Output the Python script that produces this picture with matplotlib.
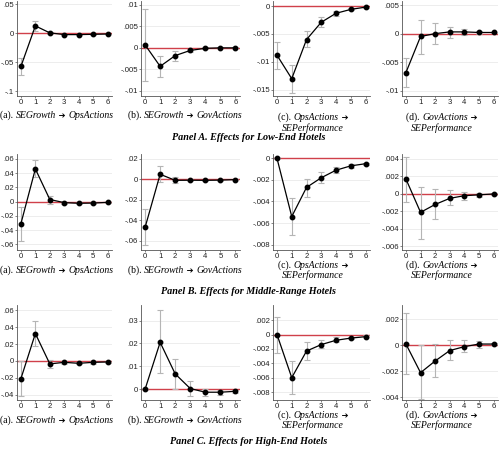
import matplotlib
matplotlib.use("Agg")
import matplotlib.pyplot as plt
from matplotlib.offsetbox import TextArea, HPacker, AnnotationBbox

# ---------------- data ----------------
steps = [0, 1, 2, 3, 4, 5, 6]

# Panel A (Low-End)
A_a_est = [-0.057, 0.013, 0.001, -0.002, -0.002, -0.0015, -0.001]
A_a_lo = [-0.072, 0.005, -0.001, -0.003, -0.003, -0.002, -0.0015]
A_a_hi = [-0.042, 0.021, 0.003, -0.001, -0.001, -0.001, -0.0005]

A_b_est = [0.0007, -0.0043, -0.0018, -0.0006, -0.0001, 0.0, 0.0]
A_b_lo = [-0.0076, -0.0067, -0.0030, -0.0010, -0.0003, -0.0001, -0.0001]
A_b_hi = [0.009, -0.0018, -0.0008, -0.0002, 0.0001, 0.0001, 0.0001]

A_c_est = [-0.0088, -0.0130, -0.0060, -0.0029, -0.0013, -0.0006, -0.0002]
A_c_lo = [-0.0112, -0.0155, -0.0074, -0.0038, -0.0017, -0.0008, -0.0003]
A_c_hi = [-0.0065, -0.0105, -0.0045, -0.0020, -0.0009, -0.0004, -0.0001]

A_d_est = [-0.0068, -0.0005, 0.0, 0.0003, 0.0003, 0.0002, 0.0002]
A_d_lo = [-0.0094, -0.0035, -0.0019, -0.0007, -0.0002, 0.0, 0.0001]
A_d_hi = [-0.0042, 0.0024, 0.0018, 0.0012, 0.0008, 0.0004, 0.0003]

# Panel B (Middle-Range)
B_a_est = [-0.031, 0.046, 0.003, -0.0014, -0.0023, -0.002, -0.001]
B_a_lo = [-0.055, 0.034, -0.003, -0.003, -0.004, -0.003, -0.002]
B_a_hi = [-0.007, 0.058, 0.0084, 0.0002, -0.001, -0.001, 0.0]

B_b_est = [-0.047, 0.0049, -0.001, -0.0009, -0.001, -0.0008, -0.0003]
B_b_lo = [-0.064, -0.003, -0.004, -0.002, -0.0015, -0.0012, -0.0006]
B_b_hi = [-0.029, 0.013, 0.0026, 0.0002, -0.0005, -0.0004, 0.0]

B_c_est = [0.0, -0.0054, -0.0027, -0.0018, -0.0011, -0.0007, -0.0005]
B_c_lo = [0.0, -0.0071, -0.0036, -0.0023, -0.0014, -0.0009, -0.0006]
B_c_hi = [0.0, -0.0037, -0.0019, -0.0013, -0.0008, -0.0005, -0.0004]

B_d_est = [0.0017, -0.0021, -0.0012, -0.0005, -0.0002, -0.0001, 0.0]
B_d_lo = [-0.0009, -0.0051, -0.0029, -0.0013, -0.0007, -0.0003, -0.0001]
B_d_hi = [0.0042, 0.0008, 0.0006, 0.0004, 0.0002, 0.0001, 0.0001]

# Panel C (High-End)
C_a_est = [-0.021, 0.0325, -0.0035, -0.0016, -0.0028, -0.0016, -0.0012]
C_a_lo = [-0.042, 0.018, -0.008, -0.003, -0.004, -0.003, -0.002]
C_a_hi = [0.0, 0.047, 0.001, 0.0, -0.0015, -0.0005, -0.0004]

C_b_est = [0.0, 0.0205, 0.0067, 0.0003, -0.0013, -0.0013, -0.0009]
C_b_lo = [0.0, 0.007, 0.0, -0.003, -0.0028, -0.0024, -0.0016]
C_b_hi = [0.0, 0.0344, 0.0134, 0.0034, 0.0002, -0.0002, -0.0002]

C_c_est = [0.0, -0.0060, -0.0023, -0.0014, -0.0008, -0.0005, -0.0003]
C_c_lo = [-0.0025, -0.0082, -0.0035, -0.0019, -0.0011, -0.0006, -0.0004]
C_c_hi = [0.0025, -0.0037, -0.0011, -0.0008, -0.0004, -0.0003, -0.0001]

C_d_est = [0.0001, -0.0021, -0.0012, -0.0004, -0.0001, 0.0001, 0.0001]
C_d_lo = [-0.0022, -0.0041, -0.0024, -0.0011, -0.0005, -0.0002, 0.0]
C_d_hi = [0.0025, 0.0, 0.0001, 0.0004, 0.0004, 0.0003, 0.0002]

# y ticks per panel
A_a_ticks = [-0.1, -0.05, 0, 0.05]
A_b_ticks = [-0.01, -0.005, 0, 0.005, 0.01]
A_c_ticks = [-0.015, -0.01, -0.005, 0]
A_d_ticks = [-0.01, -0.005, 0, 0.005]
B_a_ticks = [-0.06, -0.04, -0.02, 0, 0.02, 0.04, 0.06]
B_b_ticks = [-0.06, -0.04, -0.02, 0, 0.02]
B_c_ticks = [-0.008, -0.006, -0.004, -0.002, 0]
B_d_ticks = [-0.006, -0.004, -0.002, 0, 0.002, 0.004]
C_a_ticks = [-0.04, -0.02, 0, 0.02, 0.04, 0.06]
C_b_ticks = [0, 0.01, 0.02, 0.03]
C_c_ticks = [-0.008, -0.006, -0.004, -0.002, 0, 0.002]
C_d_ticks = [-0.004, -0.002, 0, 0.002]

captions = {
    "a": [("(a). ", "normal"), ("SEGrowth", "italic"), (" ➔ ", "arrow"), ("OpsActions", "italic")],
    "b": [("(b). ", "normal"), ("SEGrowth", "italic"), (" ➔ ", "arrow"), ("GovActions", "italic")],
    "c": [("(c). ", "normal"), ("OpsActions", "italic"), (" ➔", "arrow")],
    "d": [("(d). ", "normal"), ("GovActions", "italic"), (" ➔", "arrow")],
}
caption2 = "SEPerformance"
panel_titles = ["Panel A. Effects for Low-End Hotels",
                "Panel B. Effects for Middle-Range Hotels",
                "Panel C. Effects for High-End Hotels"]

# ---------------- layout ----------------
W, H = 500, 449
fig = plt.figure(figsize=(W / 100, H / 100), dpi=100)
fig.patch.set_facecolor("white")

rows_px = [(1, 96), (154, 250), (305, 400)]
cols_px = [(17, 112), (141, 240), (273, 370), (402, 498)]
caption_cx = [57, 185, 313, 442]
ylims = [
    [(-0.108, 0.056), (-0.0112, 0.0109), (-0.0161, 0.0009), (-0.0109, 0.0057)],
    [(-0.068, 0.067), (-0.069, 0.0247), (-0.0085, 0.0004), (-0.0064, 0.00456)],
    [(-0.0463, 0.0664), (-0.0047, 0.0368), (-0.0091, 0.0041), (-0.0042, 0.0031)],
]
panels = [
    [(A_a_est, A_a_lo, A_a_hi, A_a_ticks), (A_b_est, A_b_lo, A_b_hi, A_b_ticks),
     (A_c_est, A_c_lo, A_c_hi, A_c_ticks), (A_d_est, A_d_lo, A_d_hi, A_d_ticks)],
    [(B_a_est, B_a_lo, B_a_hi, B_a_ticks), (B_b_est, B_b_lo, B_b_hi, B_b_ticks),
     (B_c_est, B_c_lo, B_c_hi, B_c_ticks), (B_d_est, B_d_lo, B_d_hi, B_d_ticks)],
    [(C_a_est, C_a_lo, C_a_hi, C_a_ticks), (C_b_est, C_b_lo, C_b_hi, C_b_ticks),
     (C_c_est, C_c_lo, C_c_hi, C_c_ticks), (C_d_est, C_d_lo, C_d_hi, C_d_ticks)],
]


def stata_fmt(v):
    if abs(v) < 1e-12:
        return "0"
    s = f"{v:g}"
    s = s.replace("0.", ".")
    return s


tick_font = dict(family=["Liberation Sans", "DejaVu Sans"], size=5.6)
serif = ["Liberation Serif", "DejaVu Serif"]
CAP = 7.0


def part_box(txt, kind, size=CAP):
    if kind == "arrow":
        tp = dict(family=["DejaVu Sans"], size=size * 0.85, color="black")
    elif kind == "italic":
        tp = dict(family=serif, style="italic", size=size, color="black")
    else:
        tp = dict(family=serif, size=size, color="black")
    return TextArea(txt, textprops=tp)


def make_caption(parts):
    return HPacker(children=[part_box(t, k) for t, k in parts], pad=0, sep=0, align="baseline")


col_keys = ["a", "b", "c", "d"]
caption_y = [115, 270, 420]
caption_l1_y = [117, 265, 415]
caption_l2_y = [128, 275, 425]
title_y = [137, 292, 442]

for r, (top, bot) in enumerate(rows_px):
    for c, (left, right) in enumerate(cols_px):
        est, lo, hi, ticks = panels[r][c]
        ax = fig.add_axes([left / W, 1 - bot / H, (right - left) / W, (bot - top) / H])
        ax.set_facecolor("white")
        for t in ticks:
            ax.axhline(t, color="#eaeaea", lw=0.6, zorder=0)
        ax.axhline(0, color="#d0404a", lw=1.0, zorder=1)
        yerr = [[e - l for e, l in zip(est, lo)], [h - e for e, h in zip(est, hi)]]
        ax.errorbar(steps, est, yerr=yerr, fmt="none", ecolor="#b5b5b5",
                    elinewidth=0.8, capsize=2, capthick=0.8, zorder=2)
        ax.plot(steps, est, color="black", lw=0.9, marker="o", ms=3.2,
                mfc="black", mec="black", zorder=3)
        ax.set_xlim(-0.27, 6.3)
        ax.set_ylim(*ylims[r][c])
        ax.set_xticks(steps)
        ax.set_xticklabels([str(s) for s in steps], **tick_font)
        ax.set_yticks(ticks)
        ax.set_yticklabels([stata_fmt(t) for t in ticks], **tick_font)
        for sp in ["top", "right"]:
            ax.spines[sp].set_visible(False)
        for sp in ["left", "bottom"]:
            ax.spines[sp].set_color("#555555")
            ax.spines[sp].set_linewidth(0.6)
        ax.tick_params(axis="both", length=1.5, width=0.5, color="#555555",
                       pad=0.8, labelcolor="#222222")

        # captions
        cx = caption_cx[c] / W
        key = col_keys[c]
        if c < 2:
            box = make_caption(captions[key])
            ab = AnnotationBbox(box, (cx, 1 - caption_y[r] / H), xycoords="figure fraction",
                                box_alignment=(0.5, 0.5), frameon=False, pad=0)
            fig.add_artist(ab)
        else:
            box = make_caption(captions[key])
            ab = AnnotationBbox(box, (cx, 1 - caption_l1_y[r] / H), xycoords="figure fraction",
                                box_alignment=(0.5, 0.5), frameon=False, pad=0)
            fig.add_artist(ab)
            fig.text(cx, 1 - caption_l2_y[r] / H, caption2, ha="center", va="center",
                     family=serif, style="italic", size=CAP)

    fig.text(0.497, 1 - title_y[r] / H, panel_titles[r], ha="center", va="center",
             family=serif, style="italic", weight="bold", size=7.3)

fig.savefig("out.png", dpi=100, facecolor="white")
